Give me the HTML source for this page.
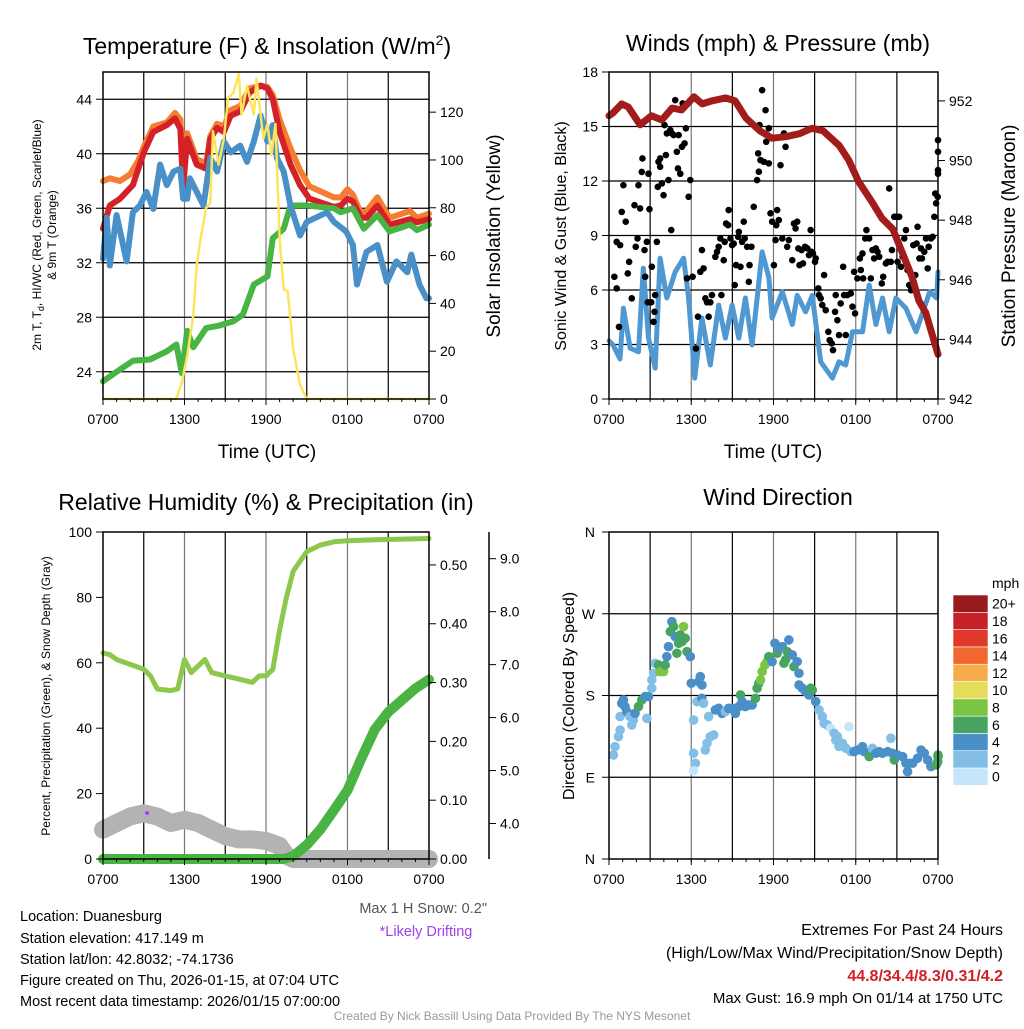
<!DOCTYPE html>
<html><head><meta charset="utf-8"><style>
body{margin:0;background:#fff}
svg text{font-family:"Liberation Sans",sans-serif}
</style></head><body>
<svg id="c" width="1024" height="1024" viewBox="0 0 1024 1024" xmlns="http://www.w3.org/2000/svg">
<rect width="1024" height="1024" fill="#fff"/>
<text x="267" y="54" font-size="23" text-anchor="middle">Temperature (F) &amp; Insolation (W/m<tspan font-size="14" dy="-9">2</tspan><tspan dy="9">)</tspan></text>
<text x="778" y="51" font-size="23" text-anchor="middle">Winds (mph) &amp; Pressure (mb)</text>
<text x="266" y="510" font-size="23" text-anchor="middle">Relative Humidity (%) &amp; Precipitation (in)</text>
<text x="778" y="505" font-size="23" text-anchor="middle">Wind Direction</text>
<text x="267" y="458" font-size="19" text-anchor="middle">Time (UTC)</text>
<text x="773" y="458" font-size="19" text-anchor="middle">Time (UTC)</text>
<text transform="translate(41,235) rotate(-90)" font-size="12" text-anchor="middle">2m T, T<tspan font-size="9" dy="3">d</tspan><tspan dy="-3">, HI/WC (Red, Green, Scarlet/Blue)</tspan></text>
<text transform="translate(56,235) rotate(-90)" font-size="12" text-anchor="middle">&amp; 9m T (Orange)</text>
<text transform="translate(500,236) rotate(-90)" font-size="19" text-anchor="middle">Solar Insolation (Yellow)</text>
<text transform="translate(566,236) rotate(-90)" font-size="16" text-anchor="middle">Sonic Wind &amp; Gust (Blue, Black)</text>
<text transform="translate(1015,236) rotate(-90)" font-size="19" text-anchor="middle">Station Pressure (Maroon)</text>
<text transform="translate(50,696) rotate(-90)" font-size="12" text-anchor="middle">Percent, Precipitation (Green), &amp; Snow Depth (Gray)</text>
<text transform="translate(574,696) rotate(-90)" font-size="16" text-anchor="middle">Direction (Colored By Speed)</text>
<g font-size="14.5">
<text x="20" y="921">Location: Duanesburg</text>
<text x="20" y="943">Station elevation: 417.149 m</text>
<text x="20" y="964">Station lat/lon: 42.8032; -74.1736</text>
<text x="20" y="985">Figure created on Thu, 2026-01-15, at 07:04 UTC</text>
<text x="20" y="1006">Most recent data timestamp: 2026/01/15 07:00:00</text>
</g>
<text x="487" y="913" font-size="14.5" fill="#555" text-anchor="end">Max 1 H Snow: 0.2"</text>
<text x="426" y="936" font-size="14.5" fill="#a040f0" text-anchor="middle">*Likely Drifting</text>
<text x="1003" y="935" font-size="16" text-anchor="end">Extremes For Past 24 Hours</text>
<text x="1003" y="958" font-size="16" text-anchor="end">(High/Low/Max Wind/Precipitation/Snow Depth)</text>
<text x="1003" y="981" font-size="16" font-weight="bold" fill="#d0202a" text-anchor="end">44.8/34.4/8.3/0.31/4.2</text>
<text x="1003" y="1003" font-size="15" text-anchor="end">Max Gust: 16.9 mph On 01/14 at 1750 UTC</text>
<text x="512" y="1020" font-size="12" fill="#999" text-anchor="middle">Created By Nick Bassill Using Data Provided By The NYS Mesonet</text>
</svg>
<script>
// ---- Panel 1 data (hours since 0700 UTC) ----
const redT=[0,0.5,1.25,2.2,3,3.7,4.7,5.3,5.7,5.9,6.2,6.9,7.6,7.9,8.4,8.9,9.4,10.1,10.8,11.6,12.1,12.5,13,13.8,14.5,15.2,17,17.5,18,18.4,19,19.4,20.2,21.1,22.6,23.1,24];
const redV=[34.5,36.2,36.7,37.7,40.1,41.6,42.1,42.6,41.8,37.5,41.1,39.2,38.9,41.1,41.9,41.6,42.8,43.1,44.5,45,44.8,44,41.6,39.2,37.7,36.7,36.1,36.2,36.7,36.5,35.3,35.3,36.2,34.8,35.2,34.97,35.2];
const orgT=[0,0.5,1.25,2,2.6,3,3.7,4.7,5.3,5.7,5.9,6.2,6.9,7.6,7.9,8.4,8.9,9.4,10.1,10.8,11.6,12.1,12.5,13,13.8,14.5,15.2,17,17.5,18,18.4,19,19.4,20.2,21.1,22.6,23.1,24];
const orgV=[38,38.2,38,38.5,39.5,40.5,42,42.3,43,42.5,38,41.5,39.6,39.3,41.3,42.2,42,43.2,43.5,44.8,45,44.9,44.3,42.5,40.4,38.8,37.6,36.8,36.8,37.4,37,35.6,35.8,36.8,35.3,35.8,35.3,35.6];
const bluT=[0,0.27,0.5,1,1.74,2.2,2.72,3.2,3.7,4.2,4.7,5.2,5.7,5.9,6.2,6.4,7.4,7.9,8.4,8.9,9.4,10.1,10.6,11.1,11.6,12.1,12.5,12.8,13.3,13.8,14.5,15,16.5,17,17.9,18.4,18.7,19.4,20.2,20.9,21.6,22.4,22.7,23.3,23.8,24];
const bluV=[32.3,35.3,31.8,35.5,32.1,35.7,36.2,37.2,35.95,39.2,37.7,38.7,38.9,36.7,36.7,38.2,36.2,39.7,38.7,40.9,40.1,40.6,39.4,40.9,42.8,40.9,42.1,39.7,38.7,36.2,34,35,35.7,35,34.3,33.3,30.4,32.8,33.3,30.6,32.1,31.3,32.6,30.4,29.4,29.4];
const grnT=[0,1,2.2,3.46,4.7,5.4,5.8,6.2,6.65,7.6,8.6,9.6,10.3,11.1,12.1,12.5,13.3,13.8,15,17,17.5,18.4,19.2,20.2,21.1,22.6,23.1,24];
const grnV=[23.3,24,24.8,24.9,25.5,26,23.9,27,25.8,27.2,27.4,27.7,28.2,30.4,31,33.8,34.5,36.2,36.2,36,35.7,36,34.5,35.5,34.3,34.8,34.4,34.8];
const solT=[0,5.4,5.8,6.2,6.65,6.9,7.15,7.6,7.9,8.1,8.5,8.9,9.2,9.6,10,10.2,10.6,11.1,11.3,11.8,12.1,12.4,12.7,13,13.3,13.6,14,14.5,15,24];
const solV=[0,0,7,18,35,56,66,80,82,112,98,109,126,128,136,119,131,119,134,109,115,102,115,67,46,45,21,6,0,0];
const tempTicks=[24,28,32,36,40,44];
const solTicks=[0,20,40,60,80,100,120];
const timeLabels=["0700","1300","1900","0100","0700"];
// ---- Panel 2 data ----
const presT=[0,0.3,0.93,1.4,2.27,3.1,3.85,4.6,5.3,6.2,6.8,7.5,8.5,9.2,10,11,11.9,12.9,13.9,14.8,15.6,16.8,17.5,18.2,19.2,19.9,20.7,21.4,22.1,22.6,23.1,24];
const presV=[951.5,951.6,951.9,951.8,951.2,951.5,951.36,951.76,951.7,952.14,951.9,952,952.1,952,951.42,951,950.75,950.8,950.9,951.08,951,950.5,950,949.3,948.6,948.07,947.7,946.9,946.1,945.3,944.9,943.5];
const windT=[0,0.3,0.8,1.05,1.54,2.15,2.5,2.88,3.37,3.73,4.22,4.83,5.44,5.81,6.25,6.78,7.39,8.0,8.49,8.98,9.47,9.95,10.44,11.17,11.66,11.9,12.64,13.37,13.73,14.34,14.83,15.44,16.3,16.78,17.27,17.76,18.49,18.98,19.47,19.95,20.44,20.93,21.66,22.4,22.9,23.4,23.9,24];
const windV=[3.2,2.97,2.2,5,2.8,2.6,7.2,3.35,1.7,7.75,5.56,7,7.75,5.56,1.15,4.46,1.87,5.17,3.35,5.17,3.35,5.56,2.97,8.1,6.7,4.46,5.9,4.1,5.7,4.8,5.7,2.05,1.15,2.05,1.87,3.7,3.7,6.27,4.1,5.56,3.7,5.56,5,3.7,4.8,5.9,5.56,7];
const gustT=[0.39,0.56,0.56,0.81,0.73,0.93,1.22,1.05,1.47,1.37,1.66,1.86,1.95,2.08,2.15,2.27,2.39,2.44,2.59,2.64,2.76,2.83,2.88,2.95,3.08,3.12,3.25,3.32,3.37,3.49,3.56,3.61,3.73,3.73,3.86,3.98,4.05,4.15,4.22,4.34,4.47,4.54,4.59,4.71,4.83,4.95,5.03,5.08,5.2,5.32,5.37,5.44,5.51,5.61,5.69,5.81,5.93,6.1,6.34,6.49,6.66,6.78,6.9,7.03,7.15,7.27,7.39,7.51,7.76,7.88,8.0,8.12,8.2,8.37,8.44,8.54,8.69,8.73,8.86,8.98,9.1,9.17,9.27,9.42,9.47,9.59,9.71,9.83,9.9,10.08,10.2,10.25,10.39,10.56,10.8,10.88,10.93,10.98,11.05,11.17,11.3,11.42,11.47,11.66,11.66,11.78,11.9,12.03,12.15,12.2,12.27,12.39,12.51,12.64,12.76,12.88,13.0,13.12,13.37,13.49,13.61,13.73,13.81,13.9,14.05,14.15,14.3,14.47,14.59,14.71,14.78,14.88,15.03,15.08,15.27,15.32,15.44,15.56,15.69,15.81,16.0,16.1,16.25,16.34,16.49,16.54,16.66,16.78,16.9,17.08,17.15,17.27,17.39,17.64,17.76,17.88,17.95,18.12,18.3,18.37,18.49,18.54,18.69,18.78,18.98,19.1,19.22,19.34,19.47,19.59,19.71,19.9,20.0,20.2,20.32,20.44,20.56,20.64,20.81,20.93,21.05,21.17,21.3,21.42,21.54,21.66,21.78,21.9,22.03,22.1,22.2,22.34,22.44,22.51,22.64,22.76,22.83,23.0,23.12,23.25,23.32,23.49,23.61,23.73,23.8,23.86,23.98,24,24,24,24];
const gustV=[6.73,6.09,8.65,8.47,3.97,10.3,9.76,11.77,7.55,6.91,5.54,10.67,8.38,8.84,11.77,10.49,12.5,13.24,8.2,6.73,8.65,5.32,12.4,10.45,5.32,7.28,4.25,4.8,5.72,8.65,11.68,13.06,13.24,12.78,11.87,11.22,15.08,13.43,14.62,12.05,14.8,9.3,14.62,14.53,16.45,13.61,12.69,14.53,12.4,13.88,16.27,16.18,14.07,14.9,6.64,11.13,12.05,6.73,2.78,4.53,7.0,8.2,7.19,5.54,5.32,4.53,5.32,5.72,7.83,8.1,8.38,8.84,5.72,7.64,8.65,9.66,9.57,10.4,8.84,8.47,8.56,6.27,7.37,8.93,9.2,7.28,8.65,9.76,8.84,8.38,6.45,7.37,8.38,10.58,12.05,13.52,12.51,15.08,13.15,17.0,13.06,15.9,14.16,14.9,12.97,10.22,9.76,7.37,8.75,9.57,10.4,9.85,12.87,8.84,14.62,13.88,8.38,8.75,7.64,9.66,9.39,9.76,8.29,7.37,8.2,7.46,8.38,8.29,7.92,9.3,8.1,8.01,7.55,7.74,6.09,5.72,5.54,5.17,6.82,4.89,3.7,3.24,3.06,2.69,4.8,5.72,4.34,3.52,5.26,7.28,5.72,3.52,5.72,5.81,5.08,7.0,4.71,6.64,7.74,7.1,8.01,6.64,8.84,9.3,8.84,6.64,8.2,7.74,8.29,8.1,7.83,6.36,6.73,7.46,7.55,11.59,7.55,8.2,10.03,10.03,7.55,10.03,7.28,7.83,8.84,9.3,7.1,6.27,5.99,6.73,8.47,6.82,8.56,9.48,7.74,8.29,7.74,8.1,8.84,7.19,8.38,8.84,8.93,10.03,11.31,10.77,11.13,14.25,12.4,13.61,12.6];
const windTicks=[0,3,6,9,12,15,18];
const presTicks=[942,944,946,948,950,952];
// ---- Panel 3 data ----
const rhT=[0,0.5,1,2,3,3.5,4,5,5.5,6,6.5,7,7.5,8,9,10,11,11.5,12,12.5,13,13.5,14,15,16,17,18,20,24];
const rhV=[63,62.5,61,59.5,58,56,52,51.5,52,61,57,59,61,57,56,55,54,56,56,58,70,80,88,94,96,97,97.3,97.6,98];
const snowT=[0,1,2,3,4,5,6,7,8,9,10,11,12,13,13.5,14,24];
const snowV=[9,11,13,14,13,11,12,11,9,7,6,6,5.5,4,1,0,0];
const pcpT=[0,13.3,14,15,16,17,18,19,20,21,22,23,24];
const pcpV=[0,0,0.005,0.024,0.05,0.083,0.117,0.17,0.22,0.25,0.27,0.29,0.305];
const rhTicks=[0,20,40,60,80,100];
const pcpTicks=[0.00,0.10,0.20,0.30,0.40,0.50];
const snowAxisTicks=[4.0,5.0,6.0,7.0,8.0,9.0];
// ---- Panel 4 data ----
const dirT=[0.32,0.44,0.69,0.81,0.81,0.93,1.05,1.17,1.3,1.54,1.66,1.78,1.9,2.15,2.39,2.64,2.76,2.88,3.12,3.12,3.25,3.37,3.61,3.73,3.98,4.1,4.22,4.34,4.47,4.59,4.71,4.83,4.95,5.08,5.2,5.32,5.44,5.56,5.69,5.93,6.0,6.17,6.17,6.3,6.17,6.42,6.54,6.66,6.78,6.78,6.9,7.03,7.15,7.27,7.39,7.64,7.76,8.0,8.25,8.49,8.73,8.98,9.22,9.47,9.59,9.71,9.95,10.2,10.44,10.68,10.8,10.93,11.05,11.17,11.37,11.54,11.66,11.9,12.1,12.27,12.39,12.64,12.76,12.88,13.0,13.12,13.37,13.49,13.73,13.86,13.86,14.1,14.34,14.59,14.71,14.83,15.08,15.32,15.56,15.69,15.93,16.17,16.42,16.54,16.66,16.78,17.03,17.27,17.51,17.64,17.88,18.12,18.49,18.61,18.98,19.22,19.47,19.71,19.95,20.32,20.56,20.68,20.81,21.05,21.42,21.66,21.78,21.9,22.15,22.51,22.76,23.0,23.25,23.49,23.86,23.98,24,24];
const dirV=[114.5,123.7,134.7,142,156.8,171.4,175.1,167.8,162.2,156.8,147.6,153,160.4,167.8,175.1,178.8,154.9,178.8,188,197.1,204.5,215.5,213.6,206.3,206.3,213.6,222.8,233.8,250.3,261.3,255.8,244.8,226.5,237.5,246.7,239.3,255.8,243,228.3,222.8,193.5,153,116.4,105.4,97.3,173.3,195.3,200.8,191.6,176.9,171.4,120,127.4,156.8,134.7,136.6,164.1,165.9,160.4,162.2,165.9,165.9,160.4,167.8,180.6,173.3,167.8,169.6,169.6,176.9,188,193.5,197.1,206.3,213.6,217.3,222.8,217.3,237.5,226.5,232,233.8,215.5,219.1,228.3,241.2,224.7,211.8,217.3,204.5,191.6,188,184.3,180.6,188,186.1,173.3,164.1,156.8,149.4,147.6,143.9,138.4,131,134.7,124,127.4,121.9,145.7,118.2,118.2,120,123.7,118.2,112.7,121.9,116.4,118.2,116.4,118.2,132.9,116.4,109,114.5,112.7,105.4,96.2,105.4,105.4,110.9,120,116.4,109,101.7,103.5,107,112.7,114.5];
const dirSpd=[2.5,2.5,2.5,2.5,2.5,4.5,4.5,4.5,4.5,2.5,2.5,2.5,4.5,6.5,6.5,4.5,2.5,4.5,2.5,2.5,2.5,2.5,6.5,8.5,8.5,6.5,4.5,4.5,6.5,4.5,6.5,4.5,6.5,6.5,6.5,6.5,8.5,6.5,6.5,4.5,4.5,2.5,2.5,2.5,0.5,2.5,4.5,4.5,4.5,4.5,2.5,2.5,2.5,2.5,2.5,2.5,4.5,4.5,4.5,2.5,4.5,4.5,4.5,4.5,6.5,4.5,4.5,4.5,4.5,6.5,6.5,6.5,8.5,8.5,8.5,8.5,6.5,4.5,4.5,6.5,4.5,4.5,6.5,6.5,6.5,4.5,4.5,6.5,4.5,4.5,4.5,4.5,4.5,4.5,6.5,6.5,4.5,2.5,2.5,2.5,2.5,0.5,2.5,2.5,2.5,2.5,2.5,2.5,0.5,2.5,4.5,4.5,4.5,4.5,6.5,2.5,4.5,4.5,4.5,4.5,2.5,4.5,6.5,4.5,4.5,4.5,4.5,4.5,4.5,4.5,4.5,4.5,4.5,4.5,6.5,6.5,6.5,6.5];
const dirTicks=["N","E","S","W","N"];
const cbLabels=["0","2","4","6","8","10","12","14","16","18","20+"];
const cbColors=["#c4e6f8","#82bee6","#4a8fc8","#48a560","#7cc444","#e5dd5a","#f7ac4b","#f1672d","#e0382b","#c52126","#9a1b1e"];

const NS="http://www.w3.org/2000/svg";
const svg=document.getElementById('c');
function mk(tag,attrs,parent){const e=document.createElementNS(NS,tag);for(const k in attrs)e.setAttribute(k,attrs[k]);(parent||svg).appendChild(e);return e;}
function scale(d0,d1,r0,r1){return v=>r0+(v-d0)/(d1-d0)*(r1-r0);}
function pathD(ts,vs,sx,sy){return ts.map((t,i)=>(i?'L':'M')+sx(t).toFixed(1)+','+sy(vs[i]).toFixed(1)).join('');}

function frame(x0,x1,y0,y1,name,hLines,vCount){
  const g=mk('g',{});
  
  
  for(let i=1;i<vCount;i++){const x=x0+(x1-x0)*i/vCount;const l=mk('line',{x1:x,x2:x,y1:y0,y2:y1,stroke:(i%2?'#000':'#777'),'stroke-width':1.2},g);}
  hLines.forEach(y=>{const l=mk('line',{x1:x0,x2:x1,y1:y,y2:y,stroke:'#000','stroke-width':1.2},g);});
  return g;
}
function border(x0,x1,y0,y1,name){const r=mk('rect',{x:x0,y:y0,width:x1-x0,height:y1-y0,fill:'none',stroke:'#000','stroke-width':1.5});}
function xTicks(x0,x1,y1,name){
  const g=mk('g',{});
  timeLabels.forEach((s,i)=>{const x=x0+(x1-x0)*i/4;mk('line',{x1:x,x2:x,y1:y1,y2:y1+6,stroke:'#000'},g);
    const t=mk('text',{x:x,y:y1+25,'font-size':14,'text-anchor':'middle'},g);t.textContent=s;});
  for(let i=0;i<=24;i++){const x=x0+(x1-x0)*i/24;mk('line',{x1:x,x2:x,y1:y1,y2:y1+3,stroke:'#000'},g);}
}
function yTicks(vals,sy,x,side,fmt,name){
  const g=mk('g',{});
  vals.forEach(v=>{const y=sy(v);mk('line',{x1:x,x2:x+side*7,y1:y,y2:y,stroke:'#000'},g);
    const t=mk('text',{x:x+side*11,y:y+5,'font-size':14,'text-anchor':side<0?'end':'start'},g);t.textContent=fmt(v);});
}
function line(ts,vs,sx,sy,color,w,name){const p=mk('path',{d:pathD(ts,vs,sx,sy),fill:'none',stroke:color,'stroke-width':w,'stroke-linejoin':'round','stroke-linecap':'round'});return p;}

// Panel 1
{const X0=103,X1=429,Y0=72,Y1=399;
 const sx=scale(0,24,X0,X1),sy=scale(22,46,Y1,Y0),ss=scale(0,136.8,Y1,Y0);
 frame(X0,X1,Y0,Y1,'temp-grid',tempTicks.map(sy),8);
 line(orgT,orgV,sx,sy,'#f47d32',6,'temp-9m-line');
 line(redT,redV,sx,sy,'#d42027',6,'temp-2m-line');
 line(grnT,grnV,sx,sy,'#48b444',6,'dewpoint-line');
 line(bluT,bluV,sx,sy,'#4a90c8',6,'windchill-line');
 line(solT,solV,sx,ss,'#fbe55a',2.5,'insolation-line');
 border(X0,X1,Y0,Y1,'temp-plot-area');
 yTicks(tempTicks,sy,X0,-1,v=>v,'temp-y-axis');
 yTicks(solTicks,ss,X1,1,v=>v,'insolation-y-axis');
 xTicks(X0,X1,Y1,'temp-x-axis');}
// Panel 2
{const X0=609,X1=938,Y0=72,Y1=399;
 const sx=scale(0,24,X0,X1),sy=scale(0,18,Y1,Y0),sp=scale(942,952.97,Y1,Y0);
 frame(X0,X1,Y0,Y1,'wind-grid',windTicks.slice(1,-1).map(sy),8);
 line(windT,windV,sx,sy,'#4f98d2',5,'sonic-wind-line');
 const g=mk('g',{});
 gustT.forEach((t,i)=>{const c=mk('circle',{cx:sx(t),cy:sy(gustV[i]),r:3.3,fill:'#000'},g);});
 line(presT,presV,sx,sp,'#a21c1c',7,'pressure-line');
 border(X0,X1,Y0,Y1,'wind-plot-area');
 yTicks(windTicks,sy,X0,-1,v=>v,'wind-y-axis');
 yTicks(presTicks,sp,X1,1,v=>v,'pressure-y-axis');
 xTicks(X0,X1,Y1,'wind-x-axis');}
// Panel 3
{const X0=103,X1=429,Y0=532,Y1=859;
 const sx=scale(0,24,X0,X1),sy=scale(0,100,Y1,Y0),sq=scale(0,0.556,Y1,Y0),sn=scale(3.33,8.9,Y1,Y0+32);
 frame(X0,X1,Y0,Y1,'rh-grid',[],8);
 line(rhT,rhV,sx,sy,'#8cc84c',5,'rh-line');
 line(snowT,snowV,sx,sy,'#b3b3b3',18,'snow-depth-line');
 line(pcpT,pcpV,sx,sq,'#49b443',10,'precip-line');
 const d=mk('circle',{cx:147,cy:813,r:2,fill:'#a040f0'});
 border(X0,X1,Y0,Y1,'rh-plot-area');
 yTicks(rhTicks,sy,X0,-1,v=>v,'rh-y-axis');
 yTicks(pcpTicks,sq,X1,1,v=>v.toFixed(2),'precip-y-axis');
 mk('line',{x1:489,x2:489,y1:Y0,y2:Y1,stroke:'#000','stroke-width':1.5});
 yTicks(snowAxisTicks,sn,489,1,v=>v.toFixed(1),'snow-y-axis');
 xTicks(X0,X1,Y1,'rh-x-axis');}
// Panel 4
{const X0=609,X1=938,Y0=532,Y1=859;
 const sx=scale(0,24,X0,X1),sy=scale(0,360,Y1,Y0);
 frame(X0,X1,Y0,Y1,'direction-grid',[90,180,270].map(sy),8);
 const g=mk('g',{});
 dirT.forEach((t,i)=>{const c=mk('circle',{cx:sx(t),cy:sy(dirV[i]),r:4.8,fill:cbColors[Math.min(10,Math.floor(dirSpd[i]/2))]},g);});
 border(X0,X1,Y0,Y1,'direction-plot-area');
 const ga=mk('g',{});
 dirTicks.forEach((s,i)=>{const y=sy(i*90);mk('line',{x1:X0,x2:X0-7,y1:y,y2:y,stroke:'#000'},ga);const t=mk('text',{x:X0-14,y:y+5,'font-size':14,'text-anchor':'end'},ga);t.textContent=s;});
 xTicks(X0,X1,Y1,'direction-x-axis');
 const cb=mk('g',{});
 const bh=17.3;
 cbColors.forEach((c,i)=>{const y=595+(10-i)*bh;const r=mk('rect',{x:953,y:y,width:35,height:bh,fill:c,stroke:'#fff','stroke-width':0.6},cb);
   const t=mk('text',{x:992,y:y+bh/2+5,'font-size':14},cb);t.textContent=cbLabels[i];});
 const u=mk('text',{x:992,y:588,'font-size':14},cb);u.textContent='mph';}
</script>
</body></html>
